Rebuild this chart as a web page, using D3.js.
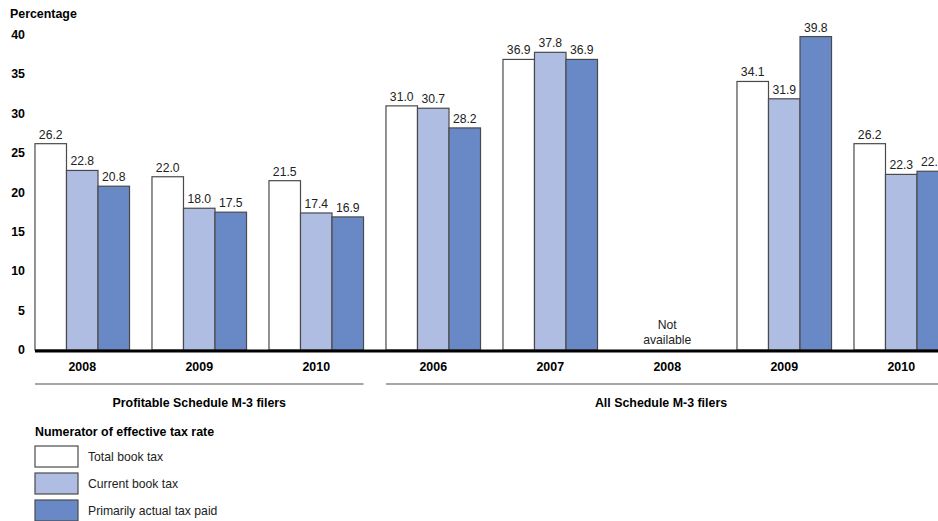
<!DOCTYPE html>
<html>
<head>
<meta charset="utf-8">
<script src="https://cdn.jsdelivr.net/npm/d3@7"></script>
<style>
  body { margin: 0; background: #fff; }
  svg { display: block; font-family: "Liberation Sans", Arial, sans-serif; }
</style>
</head>
<body>
<svg id="chart" width="938" height="521"></svg>
<script>
'use strict';
/*
 *   Data
 */
var groups = ["g0", "g1", "g2", "g3", "g4", "g5", "g6", "g7"];
var years = ["2008", "2009", "2010", "2006", "2007", "2008", "2009", "2010"];
var seriesNames = ["Total book tax", "Current book tax", "Primarily actual tax paid"];
var totalBook = [26.2, 22.0, 21.5, 31.0, 36.9, null, 34.1, 26.2];
var currentBook = [22.8, 18.0, 17.4, 30.7, 37.8, null, 31.9, 22.3];
var actualPaid = [20.8, 17.5, 16.9, 28.2, 36.9, null, 39.8, 22.7];
var yTicks = [0, 5, 10, 15, 20, 25, 30, 35, 40];
var panels = [
  { label: "Profitable Schedule M-3 filers", from: 0, to: 2 },
  { label: "All Schedule M-3 filers", from: 3, to: 7 }
];
var colors = ["#ffffff", "#b0bde3", "#6889c6"];

/*
 *   Scales
 */
var svg = d3.select("#chart");
var x = d3.scaleBand().domain(groups).range([23.75, 959.75]).paddingInner(0.192).paddingOuter(0.096);
var xs = d3.scaleBand().domain(d3.range(3)).range([0, x.bandwidth()]);
var y = d3.scaleLinear().domain([0, 40]).range([350, 35]);
var allSeries = [totalBook, currentBook, actualPaid];
var boldSize = "12.4px";

// y axis labels
svg.append("text").attr("x", 10).attr("y", 18)
  .style("font-size", boldSize).style("font-weight", "bold").text("Percentage");
svg.selectAll(".ytick").data(yTicks).enter().append("text")
  .attr("x", 25).attr("y", function(d){ return y(d) + 4; })
  .attr("text-anchor", "end")
  .style("font-size", boldSize).style("font-weight", "bold")
  .text(function(d){ return d; });

// bars
groups.forEach(function(g, i){
  var gx = x(g);
  allSeries.forEach(function(s, j){
    var v = s[i];
    if (v == null) return;
    var bx = gx + xs(j);
    svg.append("rect")
      .attr("x", bx).attr("y", y(v))
      .attr("width", xs.bandwidth()).attr("height", y(0) - y(v))
      .attr("fill", colors[j]).attr("stroke", "#4a4a4a").attr("stroke-width", 1.2);
    svg.append("text")
      .attr("x", bx + xs.bandwidth() / 2).attr("y", y(v) - 5)
      .attr("text-anchor", "middle").style("font-size", "12.2px").attr("fill", "#222")
      .text(v.toFixed(1));
  });
  if (totalBook[i] == null) {
    var cx = gx + x.bandwidth() / 2;
    svg.append("text").attr("x", cx).attr("y", 329).attr("text-anchor", "middle")
      .style("font-size", "12.2px").attr("fill", "#222").text("Not");
    svg.append("text").attr("x", cx).attr("y", 344).attr("text-anchor", "middle")
      .style("font-size", "12.2px").attr("fill", "#222").text("available");
  }
  svg.append("text")
    .attr("x", gx + x.bandwidth() / 2).attr("y", 371)
    .attr("text-anchor", "middle").style("font-size", boldSize).style("font-weight", "bold")
    .text(years[i]);
});

// base line
svg.append("line").attr("x1", 35).attr("x2", 938).attr("y1", 351).attr("y2", 351)
  .attr("stroke", "#000").attr("stroke-width", 3);

// panel labels
panels.forEach(function(p, k){
  var x1 = x(groups[p.from]);
  var x2 = Math.min(x(groups[p.to]) + x.bandwidth(), 938);
  svg.append("line").attr("x1", x1).attr("x2", x2).attr("y1", 384).attr("y2", 384)
    .attr("stroke", "#888").attr("stroke-width", 1.5);
  var cx = k === 0 ? (x1 + x2) / 2 : 661;
  svg.append("text").attr("x", cx).attr("y", 407).attr("text-anchor", "middle")
    .style("font-size", boldSize).style("font-weight", "bold").text(p.label);
});

// legend
svg.append("text").attr("x", 35).attr("y", 436)
  .style("font-size", boldSize).style("font-weight", "bold").text("Numerator of effective tax rate");
seriesNames.forEach(function(name, j){
  var ly = 446 + j * 27;
  svg.append("rect").attr("x", 35).attr("y", ly).attr("width", 43).attr("height", 21)
    .attr("fill", colors[j]).attr("stroke", "#4a4a4a").attr("stroke-width", 1.2);
  svg.append("text").attr("x", 88).attr("y", ly + 15)
    .style("font-size", "12.2px").attr("fill", "#222").text(name);
});
</script>
</body>
</html>
